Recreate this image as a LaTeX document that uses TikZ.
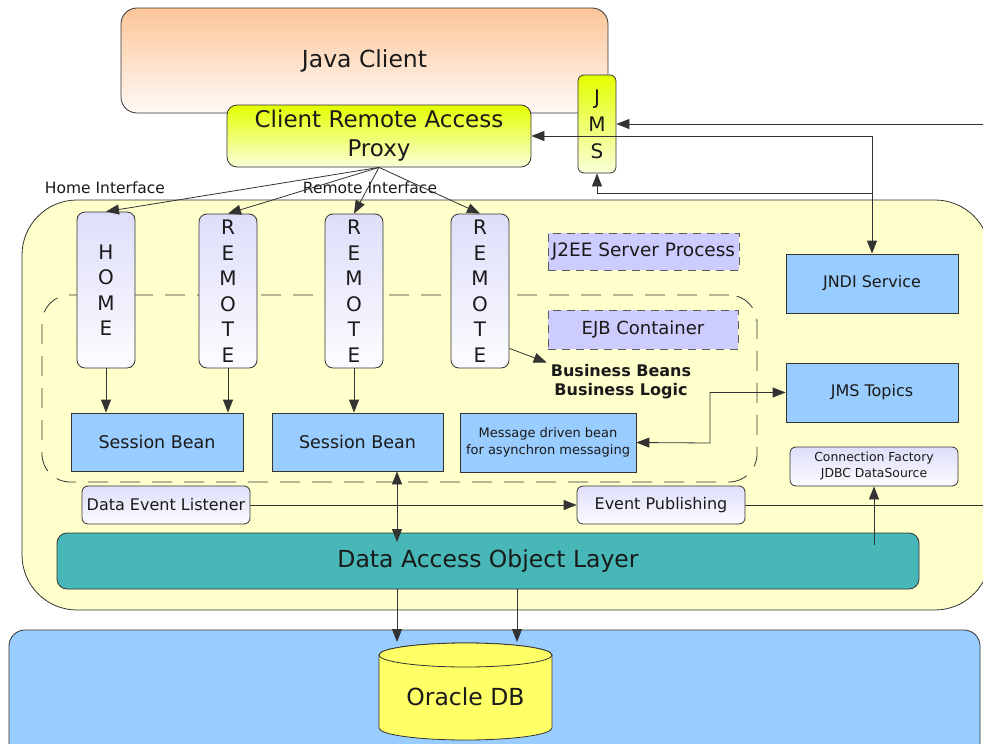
\documentclass[tikz,border=0pt]{standalone}
\usepackage{fontspec}
\setmainfont{DejaVu Sans}
\usetikzlibrary{arrows.meta,calc}

\definecolor{line}{HTML}{333333}
\definecolor{ink}{HTML}{1A1A1A}
\definecolor{srvfill}{HTML}{FFFFCC}
\definecolor{skyblue}{HTML}{99CCFF}
\definecolor{teal}{HTML}{47B7B7}
\definecolor{lavlabel}{HTML}{CCCCFF}
\definecolor{lavtop}{HTML}{DEDEFA}
\definecolor{lavbot}{HTML}{FCFCFF}
\definecolor{peach}{HTML}{FCC598}
\definecolor{peachbot}{HTML}{FFFAF6}
\definecolor{lime}{HTML}{E4FF00}
\definecolor{limebot}{HTML}{FAFFDA}
\definecolor{dbyellow}{HTML}{FFFF66}

\begin{document}
\begin{tikzpicture}[x=1pt,y=-1pt,
  box/.style={draw=line, line width=0.8pt, inner sep=0pt, align=center, text=ink},
  plainbox/.style={box, fill=skyblue},
  softbox/.style={box, rounded corners=6pt, top color=lavtop, bottom color=lavbot},
  letters/.style={softbox, rounded corners=8pt, font=\fontsize{20}{25.5}\selectfont},
  tag/.style={draw=line!80, line width=0.8pt, dash pattern=on 8pt off 6pt, fill=lavlabel, inner sep=0pt, text=ink},
  lbl/.style={inner sep=0pt, text=ink},
  arr/.style={draw=line, line width=0.8pt, -{Triangle[length=13pt,width=10pt]}},
  arrboth/.style={draw=line, line width=0.8pt, {Triangle[length=13pt,width=10pt]}-{Triangle[length=13pt,width=10pt]}},
  wire/.style={draw=line, line width=0.8pt}
]
\useasboundingbox (0,0) rectangle (983,744);

% server process and database host backgrounds
\node[box, fill=srvfill, rounded corners=55pt, minimum width=968pt, minimum height=410pt] (srv) at (506,405) {};
\node[box, fill=skyblue, rounded corners=16pt, minimum width=971pt, minimum height=140pt] (host) at (494.5,700) {};

% client side
\node[box, rounded corners=16pt, top color=peach, bottom color=peachbot,
      minimum width=487pt, minimum height=105pt, font=\fontsize{23.5}{28}\selectfont] (client) at (364.5,60.5) {Java Client};
\node[box, rounded corners=10pt, top color=lime, bottom color=limebot,
      minimum width=304pt, minimum height=62pt, font=\fontsize{23}{29}\selectfont] (proxy) at (379,136) {Client Remote Access\\Proxy};
\node[box, rounded corners=6pt, top color=lime, bottom color=limebot,
      minimum width=38pt, minimum height=98pt, font=\fontsize{20}{27}\selectfont] (jms) at (597,124) {J\\M\\S};

% interface labels
\node[lbl, font=\fontsize{15.5}{18}\selectfont] (homelbl) at (105,188) {Home Interface};
\node[lbl, font=\fontsize{15.5}{18}\selectfont] (remlbl) at (370,188) {Remote Interface};

% EJB container
\node[draw=line, line width=0.8pt, dash pattern=on 20pt off 12pt, rounded corners=28pt,
      minimum width=715pt, minimum height=187pt, inner sep=0pt] (ejb) at (399.5,388.5) {};

% interface stubs
\node[letters, minimum width=58pt, minimum height=156pt] (home) at (106,290) {H\\O\\M\\E};
\node[letters, minimum width=58pt, minimum height=154pt] (rem1) at (228,291) {R\\E\\M\\O\\T\\E};
\node[letters, minimum width=58pt, minimum height=154pt] (rem2) at (354,291) {R\\E\\M\\O\\T\\E};
\node[letters, minimum width=58pt, minimum height=154pt] (rem3) at (480,291) {R\\E\\M\\O\\T\\E};

% container tags
\node[tag, minimum width=191pt, minimum height=37pt, font=\fontsize{18.5}{22}\selectfont] (j2ee) at (643.5,251.5) {J2EE Server Process};
\node[tag, minimum width=190pt, minimum height=39pt, font=\fontsize{18}{22}\selectfont] (ejbtag) at (643,329.5) {EJB Container};

% beans
\node[plainbox, minimum width=172pt, minimum height=58pt, font=\fontsize{17.5}{21}\selectfont] (sb1) at (157,442) {Session Bean};
\node[plainbox, minimum width=171pt, minimum height=58pt, font=\fontsize{17.5}{21}\selectfont] (sb2) at (357.5,442) {Session Bean};
\node[plainbox, minimum width=176pt, minimum height=59pt, font=\fontsize{13}{17}\selectfont] (mdb) at (548,442.5) {Message driven bean\\for asynchron messaging};
\node[lbl, align=center, font=\bfseries\fontsize{16}{19}\selectfont] (biz) at (621,382) {Business Beans\\Business Logic};

% server services
\node[plainbox, minimum width=172pt, minimum height=59pt, font=\fontsize{16}{19}\selectfont] (jndi) at (872,283.5) {JNDI Service};
\node[plainbox, minimum width=172pt, minimum height=59pt, font=\fontsize{16}{19}\selectfont] (jmst) at (872,392.5) {JMS Topics};
\node[softbox, minimum width=168pt, minimum height=39pt, font=\fontsize{12.4}{16}\selectfont] (cf) at (874,466.5) {Connection Factory\\JDBC DataSource};

% events and data access
\node[softbox, minimum width=168pt, minimum height=38pt, font=\fontsize{16}{19}\selectfont] (del) at (166,505) {Data Event Listener};
\node[softbox, minimum width=168pt, minimum height=38pt, font=\fontsize{16}{19}\selectfont] (ep) at (661,505) {Event Publishing};
\node[box, fill=teal, rounded corners=10pt, minimum width=862pt, minimum height=56pt, font=\fontsize{23.5}{28}\selectfont] (dao) at (488,561) {Data Access Object Layer};

% database cylinder
\filldraw[draw=line, line width=0.8pt, fill=dbyellow]
  (379,655) -- (379,728) arc[start angle=180, end angle=360, x radius=86.5pt, y radius=12pt]
  -- (552,655) arc[start angle=0, end angle=180, x radius=86.5pt, y radius=12pt] -- cycle;
\draw[line width=0.8pt, draw=line, fill=dbyellow] (465.5,655) ellipse[x radius=86.5pt, y radius=12pt];
\node[lbl, font=\fontsize{23.5}{28}\selectfont] (db) at (465.5,697) {Oracle DB};
\coordinate (dbinA) at (397,642);
\coordinate (dbinB) at (517,642);

% free ends and bends
\coordinate (jmsin) at (983,124);
\coordinate (jmsret) at (872,193);
\coordinate (epout) at (983,505);
\coordinate (busend) at (397,542);
\coordinate (cfstart) at (874,545);
\coordinate (mdbbend) at (710,443);

% client side connectors
\draw[arr] (jmsin) -- (jms.east);
\draw[arr] (jndi.north |- proxy.east) -- (proxy.east);
\draw[arr] (jndi.north |- proxy.east) -- (jndi.north);
\draw[arr] (jmsret) -| (jms.south);

% interface connectors
\draw[arr] (proxy.south) -- (home.north);
\draw[arr] (proxy.south) -- (rem1.north);
\draw[arr] (proxy.south) -- (rem2.north);
\draw[arr] (proxy.south) -- (rem3.north);

\draw[arr] (home.south) -- (home.south |- sb1.north);
\draw[arr] (rem1.south) -- (rem1.south |- sb1.north);
\draw[arr] (rem2.south) -- (rem2.south |- sb2.north);
\draw[arr] ($(rem3.south east)+(0,-20)$) -- ($(biz.north west)+(-4,-2)$);

% messaging
\draw[arrboth] (mdb.east) -- (mdbbend) |- (jmst.west);

% events
\draw[arr] (del.east) -- (ep.west);
\draw[wire] (ep.east) -- (epout);

% data access
\draw[arrboth] (sb2.south -| busend) -- (busend);
\draw[arr] (cfstart) -- (cf.south);
\draw[arr] (dao.south -| dbinA) -- (dbinA);
\draw[arr] (dao.south -| dbinB) -- (dbinB);
\end{tikzpicture}
\end{document}
